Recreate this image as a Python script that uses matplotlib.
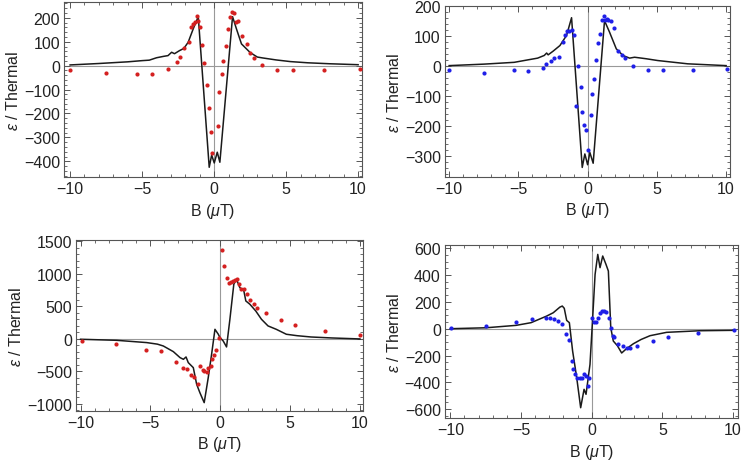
import matplotlib
matplotlib.use("Agg")
import matplotlib.pyplot as plt
from matplotlib.ticker import MultipleLocator

plt.rcParams['font.family'] = ['Liberation Sans', 'DejaVu Sans']
plt.rcParams['mathtext.fontset'] = 'custom'
plt.rcParams['mathtext.rm'] = 'Liberation Sans'
plt.rcParams['mathtext.it'] = 'Liberation Sans:italic'

# panel 1 (top left, red data)
b_data1 = [-10.0, -7.5, -5.35, -4.3, -3.2, -2.6, -2.37, -2.1, -1.77, -1.59, -1.45, -1.33,
           -1.21, -1.1, -0.98, -0.85, -0.69, -0.52, -0.38, -0.22, -0.13, 0.24, 0.35, 0.52,
           0.63, 0.82, 0.96, 1.1, 1.23, 1.37, 1.51, 1.65, 1.93, 2.25, 2.48, 2.76, 3.31,
           4.4, 5.45, 7.62, 10.1]
e_data1 = [-17, -31, -34, -34, -14, 15, 38, 72, 100, 160, 174, 181, 209, 188, 160, 87, 10,
           -81, -177, -276, -367, -251, -111, -35, 21, 84, 154, 202, 226, 219, 184, 188,
           126, 91, 52, 31, 3, -17, -20, -20, -14]
b_theory1 = [-10, -8, -6, -5, -4.5, -4, -3.5, -3.2, -2.95, -2.75, -2.4, -2.1, -1.8, -1.45,
             -1.1, -0.34, -0.17, 0.01, 0.22, 0.4, 1.28, 1.55, 1.9, 2.5, 3.0, 3.4,
             4.3, 5.3, 6.5, 8, 10]
e_theory1 = [3, 9, 16, 21, 23, 33, 39, 42, 56, 50, 63, 72, 98, 154, 205, -425, -374, -407,
             -362, -404, 205, 154, 91, 55, 36, 32, 24, 17, 12, 8, 4]

# panel 2 (top right, blue data)
b_data2 = [-10.0, -7.47, -5.35, -4.29, -3.21, -2.97, -2.65, -2.41, -2.1, -1.81, -1.64,
           -1.47, -1.32, -1.16, -0.99, -0.87, -0.68, -0.51, -0.44, -0.27, -0.15, 0.04,
           0.21, 0.31, 0.46, 0.58, 0.77, 0.89, 1.05, 1.2, 1.27, 1.37, 1.49, 1.66, 1.93,
           2.19, 2.46, 2.7, 3.3, 4.34, 5.42, 7.59, 10.07]
e_data2 = [-11, -21, -13, -15, -5, 6, 19, 29, 31, 82, 105, 117, 119, 122, 105, -132, 2,
           -68, -154, -195, -212, -279, -162, -94, -44, 20, 79, 106, 153, 167, 155, 158,
           153, 150, 128, 50, 36, 27, 2, -11, -11, -13, -9]
b_theory2 = [-10, -7.47, -5.3, -4.34, -3.61, -3.13, -2.96, -2.85, -2.5, -2.0, -1.52, -1.16,
             -0.39, -0.2, 0.0, 0.16, 0.4, 1.22, 1.58, 2.07, 2.55, 3.03, 3.39, 4.22, 5.06,
             7.23, 10]
e_theory2 = [2, 7, 13, 21, 27, 36, 44, 38, 50, 69, 103, 162, -338, -293, -329, -288, -324,
             152, 114, 58, 36, 27, 30, 25, 19, 8, 2]

# panel 3 (bottom left, red data)
b_data3 = [-9.93, -7.47, -5.35, -4.22, -3.2, -2.7, -2.41, -2.07, -1.88, -1.57, -1.46, -1.26,
           -1.15, -0.98, -0.86, -0.69, -0.6, -0.43, -0.31, -0.1, 0.14, 0.28, 0.45, 0.59,
           0.76, 0.92, 1.09, 1.21, 1.35, 1.52, 1.69, 1.92, 2.16, 2.42, 2.66, 3.26, 4.33,
           5.35, 7.49, 10.0]
e_data3 = [-36, -87, -179, -195, -359, -456, -461, -558, -589, -692, -420, -487, -497, -507,
           -446, -420, -318, -251, -179, 5, 1363, 1117, 937, 861, 876, 886, 896, 912, 835,
           758, 758, 681, 589, 538, 476, 394, 282, 205, 118, 51]
b_theory3 = [-10, -7.42, -5.27, -4.5, -4.08, -3.36, -2.88, -2.64, -2.45, -2.29, -1.93, -1.69,
             -1.46, -1.15, -0.86, -0.62, -0.38, -0.14, -0.02, 0.21, 0.45, 0.69, 0.97, 1.16,
             1.4, 1.69, 1.83, 2.12, 2.54, 2.95, 3.42, 4.01, 4.73, 5.5, 6.5, 8.0, 10.0]
e_theory3 = [-10, -26, -61, -85, -113, -200, -292, -318, -282, -369, -446, -702, -830, -984,
             -599, -241, 143, 67, 15, -36, -128, 297, 835, 912, 784, 733, 579, 528, 425, 297,
             195, 143, 67, 45, 25, 10, -5]

# panel 4 (bottom right, blue data)
b_data4 = [-9.95, -7.48, -5.35, -4.25, -3.23, -2.95, -2.65, -2.36, -2.13, -1.84, -1.61,
           -1.42, -1.3, -1.18, -1.02, -0.83, -0.66, -0.52, -0.38, -0.24, -0.17, 0.02, 0.16,
           0.3, 0.47, 0.59, 0.73, 0.87, 1.01, 1.2, 1.35, 1.49, 1.61, 1.89, 2.2, 2.48, 2.71,
           3.23, 4.31, 5.38, 7.55, 10.05]
e_data4 = [2, 20, 52, 70, 77, 82, 70, 57, 37, -37, -87, -241, -298, -335, -365, -365, -365,
           -340, -353, -427, -365, 82, 52, 52, 77, 119, 132, 132, 127, 77, 2, -55, -62,
           -117, -129, -142, -142, -129, -92, -62, -30, -12]
b_theory4 = [-10, -7.48, -5.35, -4.29, -3.19, -2.72, -2.25, -2.08, -1.94, -1.77, -1.58,
             -1.35, -1.06, -0.78, -0.54, -0.4, -0.12, 0.07, 0.24, 0.43, 0.59, 0.78, 1.01,
             1.18, 1.35, 1.53, 1.82, 2.12, 2.45, 2.95, 3.5, 4.13, 5.3, 7.67, 10.05]
e_theory4 = [0, 7, 25, 45, 94, 119, 161, 169, 152, 62, 45, -166, -365, -589, -452, -489,
             -266, 82, 405, 554, 455, 542, 480, 430, 7, -92, -127, -181, -150, -112, -80,
             -52, -27, -15, -12]

panels = [
    ([0.0867, 0.6157, 0.4008, 0.3772], b_data1, e_data1, b_theory1, e_theory1, '#d42020',
     (-10.4, 10.25), (-467, 265), 100, 20),
    ([0.5997, 0.6170, 0.3845, 0.3672], b_data2, e_data2, b_theory2, e_theory2, '#1f1fe8',
     (-10.3, 10.3), (-369, 200), 100, 20),
    ([0.1024, 0.1121, 0.3872, 0.3679], b_data3, e_data3, b_theory3, e_theory3, '#d42020',
     (-10.33, 10.24), (-1112, 1511), 500, 100),
    ([0.5997, 0.0963, 0.3945, 0.3735], b_data4, e_data4, b_theory4, e_theory4, '#1f1fe8',
     (-10.38, 10.33), (-668, 624), 200, 50),
]

fig = plt.figure(figsize=(7.42, 4.64), dpi=100)

for rect, bd, ed, bt, et, col, xlim, ylim, ymaj, ymin in panels:
    ax = fig.add_axes(rect)
    ax.axhline(0, color='#999999', lw=0.8, zorder=1)
    ax.axvline(0, color='#999999', lw=0.8, zorder=1)
    ax.plot(bt, et, color='#1a1a1a', lw=1.1, zorder=2)
    ax.plot(bd, ed, 'o', color=col, ms=3, mec='none', zorder=3)
    ax.set_xlim(*xlim)
    ax.set_ylim(*ylim)
    ax.xaxis.set_major_locator(MultipleLocator(5))
    ax.xaxis.set_minor_locator(MultipleLocator(1))
    ax.yaxis.set_major_locator(MultipleLocator(ymaj))
    ax.yaxis.set_minor_locator(MultipleLocator(ymin))
    ax.tick_params(which='both', direction='in', top=True, right=True,
                   color='#555555', labelsize=11.5, pad=3, labelcolor='#222222')
    ax.tick_params(which='major', length=4, width=0.7)
    ax.tick_params(which='minor', length=2, width=0.6)
    for s in ax.spines.values():
        s.set_color('#555555')
        s.set_linewidth(0.8)
    ax.set_xlabel(r'B ($\mu$T)', fontsize=11.5, labelpad=3, color='#222222')
    ax.set_ylabel(r'$\epsilon$ / Thermal', fontsize=11.5, labelpad=2, color='#222222')

fig.savefig('out.png', dpi=100)
